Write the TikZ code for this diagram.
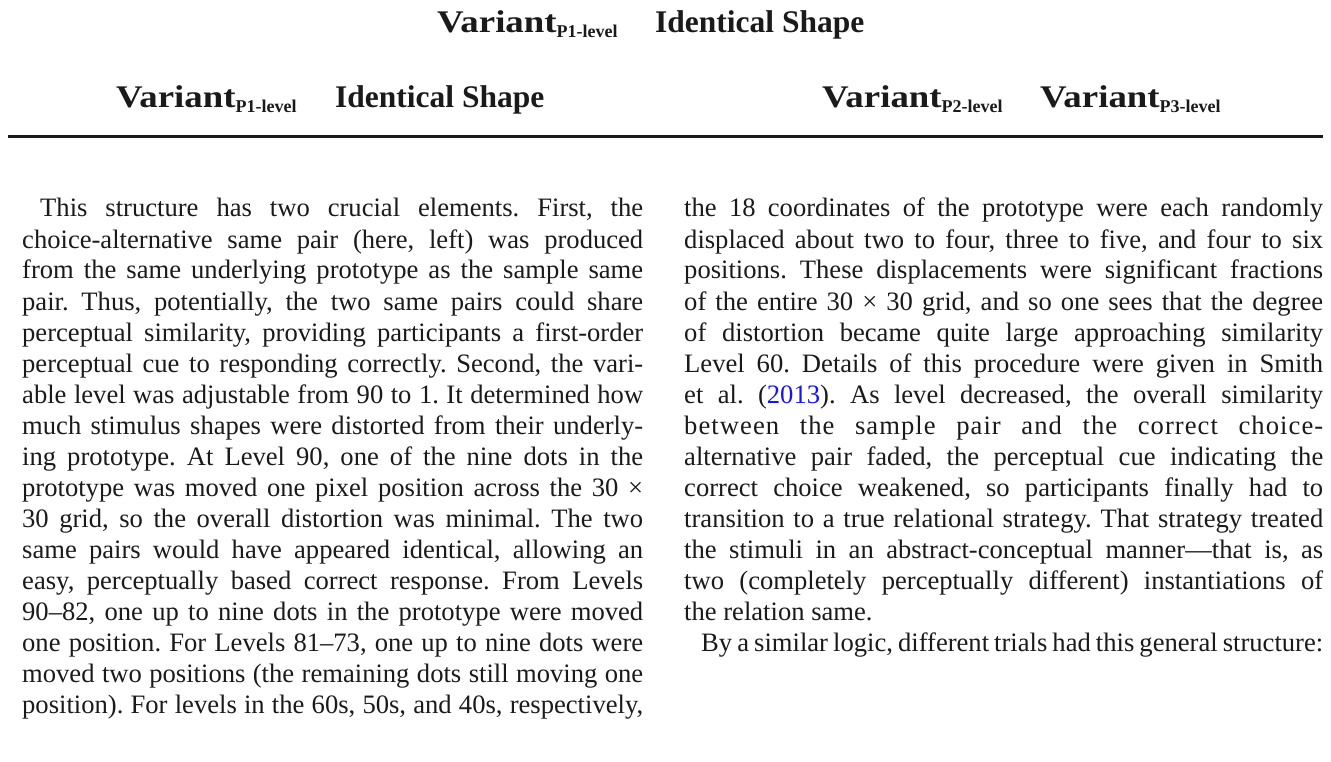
\documentclass[tikz,border=0pt]{standalone}
\usepackage{fontspec}
\setmainfont{Liberation Serif}
\usepackage{xcolor}
\usepackage{graphicx}
\frenchspacing
\definecolor{ink}{HTML}{1A1A1A}
\definecolor{linkblue}{RGB}{20,20,235}
\newcommand{\bodyfont}{\fontsize{26.6}{31}\selectfont}
\newcommand{\headfont}{\fontsize{31.5}{36}\selectfont\bfseries}
\newcommand{\subfont}{\fontsize{18}{18}\selectfont\bfseries}
\newcommand{\varsub}[1]{\scalebox{1.17}[1.0]{Variant}\raisebox{-5pt}{\subfont #1}}
\newcommand{\jl}[2]{\makebox[#1][s]{#2}}
\begin{document}
\begin{tikzpicture}[x=1pt,y=-1pt,
  hd/.style={anchor=base west,inner sep=0pt,font=\headfont,text=ink},
  bl/.style={anchor=base west,inner sep=0pt,font=\bodyfont,text=ink},
  rulestyle/.style={line width=3pt,draw=ink}]
\useasboundingbox (0,0) rectangle (1331,762);
% headers
\node[hd] (h1) at (437,33) {\varsub{P1-level}};
\node[hd] (h2) at (655,33) {Identical Shape};
\node[hd] (h3) at (116,108) {\varsub{P1-level}};
\node[hd] (h4) at (335,108) {Identical Shape};
\node[hd] (h5) at (822,108) {\varsub{P2-level}};
\node[hd] (h6) at (1040,108) {\varsub{P3-level}};
% rule
\coordinate (rl) at (8,137);
\coordinate (rr) at (1323,137);
\draw[rulestyle] (rl) -- (rr);
% left column
\def\lw{621pt}
\def\lx{22}
\node[bl] (l1) at (40,217) {\jl{603pt}{This structure has two crucial elements. First, the}};
\node[bl] (l2) at (\lx,248) {\jl{\lw}{choice-alternative same pair (here, left) was produced}};
\node[bl] (l3) at (\lx,279) {\jl{\lw}{from the same underlying prototype as the sample same}};
\node[bl] (l4) at (\lx,310) {\jl{\lw}{pair. Thus, potentially, the two same pairs could share}};
\node[bl] (l5) at (\lx,341) {\jl{\lw}{perceptual similarity, providing participants a first-order}};
\node[bl] (l6) at (\lx,372) {\jl{\lw}{perceptual cue to responding correctly. Second, the vari-}};
\node[bl] (l7) at (\lx,403) {\jl{\lw}{able level was adjustable from 90 to 1. It determined how}};
\node[bl] (l8) at (\lx,434) {\jl{\lw}{much stimulus shapes were distorted from their underly-}};
\node[bl] (l9) at (\lx,465) {\jl{\lw}{ing prototype. At Level 90, one of the nine dots in the}};
\node[bl] (l10) at (\lx,496) {\jl{\lw}{prototype was moved one pixel position across the 30 ×}};
\node[bl] (l11) at (\lx,527) {\jl{\lw}{30 grid, so the overall distortion was minimal. The two}};
\node[bl] (l12) at (\lx,558) {\jl{\lw}{same pairs would have appeared identical, allowing an}};
\node[bl] (l13) at (\lx,589) {\jl{\lw}{easy, perceptually based correct response. From Levels}};
\node[bl] (l14) at (\lx,620) {\jl{\lw}{90–82, one up to nine dots in the prototype were moved}};
\node[bl] (l15) at (\lx,651) {\jl{\lw}{one position. For Levels 81–73, one up to nine dots were}};
\node[bl] (l16) at (\lx,682) {\jl{\lw}{moved two positions (the remaining dots still moving one}};
\node[bl] (l17) at (\lx,713) {\jl{\lw}{position). For levels in the 60s, 50s, and 40s, respectively,}};
% right column
\def\rw{639pt}
\def\rx{684}
\node[bl] (r1) at (\rx,217) {\jl{\rw}{the 18 coordinates of the prototype were each randomly}};
\node[bl] (r2) at (\rx,248) {\jl{\rw}{displaced about two to four, three to five, and four to six}};
\node[bl] (r3) at (\rx,279) {\jl{\rw}{positions. These displacements were significant fractions}};
\node[bl] (r4) at (\rx,310) {\jl{\rw}{of the entire 30 × 30 grid, and so one sees that the degree}};
\node[bl] (r5) at (\rx,341) {\jl{\rw}{of distortion became quite large approaching similarity}};
\node[bl] (r6) at (\rx,372) {\jl{\rw}{Level 60. Details of this procedure were given in Smith}};
\node[bl] (r7) at (\rx,403) {\jl{\rw}{et al. (\textcolor{linkblue}{2013}). As level decreased, the overall similarity}};
\node[bl] (r8) at (\rx,434) {\addfontfeature{LetterSpace=4}\jl{\rw}{between the sample pair and the correct choice-}};
\node[bl] (r9) at (\rx,465) {\jl{\rw}{alternative pair faded, the perceptual cue indicating the}};
\node[bl] (r10) at (\rx,496) {\jl{\rw}{correct choice weakened, so participants finally had to}};
\node[bl] (r11) at (\rx,527) {\jl{\rw}{transition to a true relational strategy. That strategy treated}};
\node[bl] (r12) at (\rx,558) {\jl{\rw}{the stimuli in an abstract-conceptual manner—that is, as}};
\node[bl] (r13) at (\rx,589) {\jl{\rw}{two (completely perceptually different) instantiations of}};
\node[bl] (r14) at (\rx,620) {the relation same.};
\node[bl] (r15) at (701,651) {\jl{622pt}{By a similar logic, different trials had this general structure:}};
\end{tikzpicture}
\end{document}
